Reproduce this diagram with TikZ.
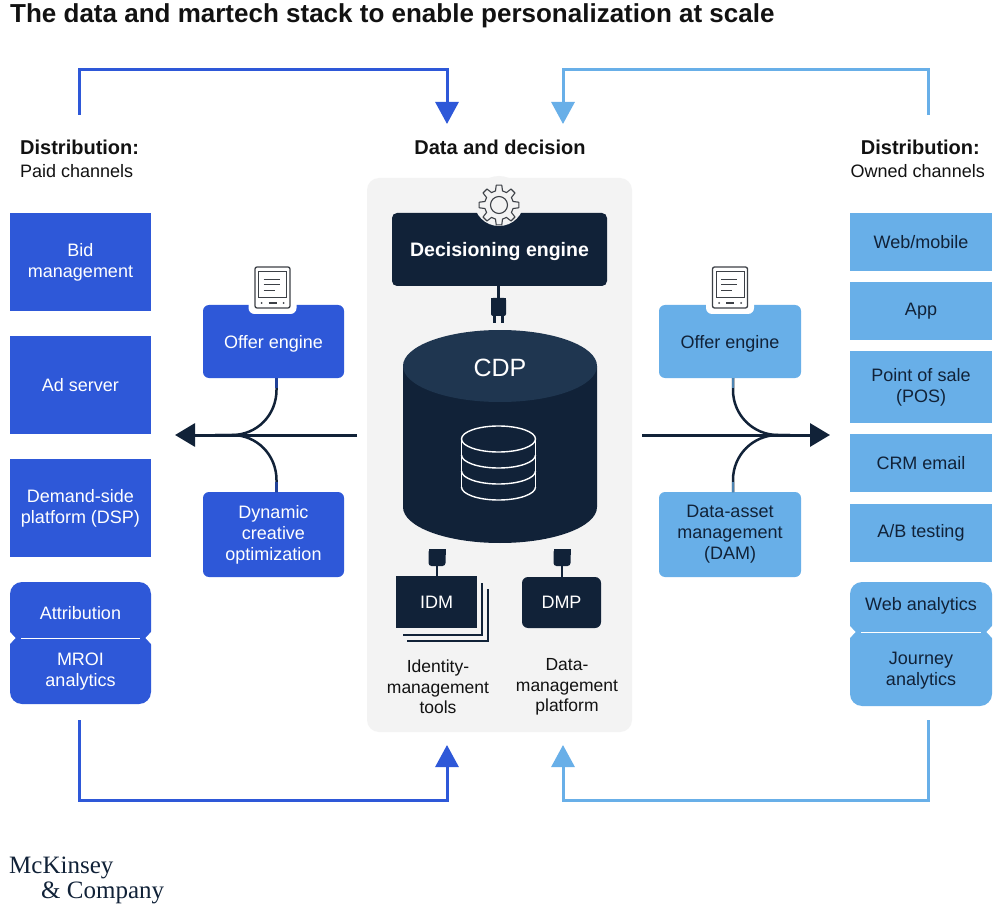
\documentclass[tikz,border=0pt]{standalone}
\usepackage{fontspec}
\setmainfont{Liberation Sans}
\newfontfamily\logofont{Liberation Serif}
\usetikzlibrary{arrows.meta}
\definecolor{mblue}{RGB}{46,88,216}
\definecolor{lblue}{RGB}{104,175,232}
\definecolor{navy}{RGB}{17,34,56}
\definecolor{cdptop}{RGB}{31,54,80}
\definecolor{panel}{RGB}{243,243,243}
\definecolor{ink}{RGB}{18,18,18}
\definecolor{icon}{RGB}{60,64,70}
\begin{document}
\begin{tikzpicture}[x=1pt,y=-1pt,
  boxtxt/.style={font=\fontsize{18}{21}\selectfont, align=center, inner sep=0pt, outer sep=0pt},
  paid/.style={boxtxt, fill=mblue, text=white, minimum width=141pt},
  owned/.style={boxtxt, fill=lblue, text=navy, minimum width=142pt},
  plain/.style={boxtxt, text=#1},
  head/.style={inner sep=0pt, text=ink, font=\fontsize{20}{24}\selectfont\bfseries},
  sub/.style={inner sep=0pt, text=ink, font=\fontsize{18}{22}\selectfont},
  darkbox/.style={boxtxt, fill=navy, text=white},
  label/.style={font=\fontsize{17.5}{20.5}\selectfont, align=center, inner sep=0pt, text=ink},
  loopA/.style={draw=mblue, line width=3pt, -{Triangle[length=22pt,width=23pt]}},
  loopB/.style={draw=lblue, line width=3pt, -{Triangle[length=22pt,width=23pt]}},
  flow/.style={draw=navy, line width=3pt, -{Triangle[length=20pt,width=23pt]}},
  feed/.style={draw=navy, line width=2.5pt},
  tablet/.pic={
    \fill[white, rounded corners=6pt] (-24,-32) rectangle (24,27);
    \draw[icon, line width=1.3pt, rounded corners=2pt] (-17.5,-20) rectangle (17.5,21);
    \draw[icon, line width=1pt] (-14,-15) rectangle (14,11);
    \draw[icon, line width=1pt] (-9,-7)--(7,-7) (-9,-2)--(7,-2) (-9,4)--(2,4);
    \fill[icon] (-11,16) circle (1pt) (11,16) circle (1pt);
    \draw[icon, line width=1.2pt] (-4,16)--(4,16);
  },
  plugup/.pic={
    \draw[navy, line width=2.5pt] (0,-13)--(0,1);
    \fill[navy, rounded corners=2pt] (-7.5,0) rectangle (7.5,18);
    \fill[navy] (-7.5,0) rectangle (7.5,6);
    \draw[navy, line width=2.5pt] (-4,17)--(-4,25) (4,17)--(4,25);
  },
  plugdown/.pic={
    \fill[navy, rounded corners=3pt] (-8.5,0) rectangle (8.5,17);
    \fill[navy] (-8.5,0) rectangle (8.5,6);
    \draw[navy, line width=2.5pt] (0,16)--(0,28);
  }
]
\useasboundingbox (0,0) rectangle (1002,912);
\fill[white] (0,0) rectangle (1002,912);

% title
\node[anchor=base west, inner sep=0pt, text=ink, font=\fontsize{26}{30}\selectfont\bfseries] (title) at (10,23)
  {The data and martech stack to enable personalization at scale};

% headings
\node[head, anchor=base west] (distL) at (20,155) {Distribution:};
\node[sub, anchor=base west] (paidL) at (20,178) {Paid channels};
\node[head, anchor=base] (dd) at (500,155) {Data and decision};
\node[head, anchor=base east] (distR) at (980,155) {Distribution:};
\node[sub, anchor=base east] (ownR) at (985,178) {Owned channels};

% central panel
\node[fill=panel, rounded corners=12pt, minimum width=265pt, minimum height=554pt, inner sep=0pt] (panel) at (499.5,455) {};

% loop arrows
\coordinate (tlA) at (79,115);
\coordinate (tlB) at (447,124);
\coordinate (trA) at (928,115);
\coordinate (trB) at (563,124);
\coordinate (blA) at (79,720);
\coordinate (blB) at (447,745);
\coordinate (brA) at (928,720);
\coordinate (brB) at (563,745);
\draw[loopA] (tlA) -- ++(0,-45) -| (tlB);
\draw[loopB] (trA) -- ++(0,-45) -| (trB);
\draw[loopA] (blA) -- ++(0,80) -| (blB);
\draw[loopB] (brA) -- ++(0,80) -| (brB);

% decisioning engine
\node[darkbox, rounded corners=5pt, minimum width=215pt, minimum height=73pt, font=\fontsize{19.5}{23}\selectfont\bfseries] (dec) at (499.5,249.5) {\raisebox{-6.8pt}[0pt][0pt]{Decisioning engine}};
\fill[panel] (499,201) circle (25pt);
\begin{scope}[shift={(499,205)}]
  \draw[icon, line width=1.1pt, line join=round]
    ({0-14}:14.5pt) \foreach \a in {0,45,...,315} { -- ({\a-14}:14.5pt) -- ({\a-8}:20pt) -- ({\a+8}:20pt) -- ({\a+14}:14.5pt) } -- cycle;
  \draw[icon, line width=1.1pt] (0,0) circle (8.5pt);
\end{scope}
\pic at (498.5,298) {plugup};

% CDP cylinder
\fill[navy] (403,366) -- (403,507) arc[start angle=180, end angle=360, x radius=97pt, y radius=36pt] -- (597,366) -- cycle;
\fill[cdptop] (500,366) ellipse [x radius=97pt, y radius=36pt];
\node[inner sep=0pt, text=white, font=\fontsize{25}{28}\selectfont] (cdp) at (500,368) {CDP};
\begin{scope}[white, line width=1.4pt]
  \draw (498.5,439) ellipse [x radius=37pt, y radius=13pt];
  \draw (461.5,439) -- (461.5,487) (535.5,439) -- (535.5,487);
  \foreach \c in {455,471,487} {
    \draw (461.5,\c) arc[start angle=180, end angle=360, x radius=37pt, y radius=13pt];
  }
\end{scope}

% IDM and DMP
\draw[navy, line width=2.5pt] (403,635) -- (482,635) -- (482,583);
\draw[navy, line width=2.5pt] (407,641) -- (488,641) -- (488,589);
\node[darkbox, minimum width=81pt, minimum height=52pt] (idm) at (436.5,602) {IDM};
\node[darkbox, rounded corners=6pt, minimum width=79pt, minimum height=51pt] (dmp) at (561.5,602.5) {DMP};
\pic at (437,549) {plugdown};
\pic at (562,549) {plugdown};
\node[label] (idmlab) at (438,687) {Identity-\\management\\tools};
\node[label] (dmplab) at (567,687) {Data-\\management\\platform};

% left column (paid)
\node[paid, minimum height=98pt] (bid) at (80.5,262) {Bid\\management};
\node[paid, minimum height=98pt] (ad) at (80.5,385) {Ad server};
\node[paid, minimum height=98pt] (dsp) at (80.5,508) {Demand-side\\platform (DSP)};
\node[paid, rounded corners=12pt, minimum height=122pt] (attr) at (80.5,643) {};
\fill[white] (9,631) -- (15.5,638) -- (9,645) -- cycle;
\fill[white] (152,631) -- (145.5,638) -- (152,645) -- cycle;
\draw[white, line width=1pt] (21,638) -- (140,638);
\node[plain=white] (attrt) at (80.5,613) {Attribution};
\node[plain=white] (mroi) at (80.5,672) {MROI\\analytics};

% right column (owned)
\node[owned, minimum height=58pt] (web) at (921,242) {Web/mobile};
\node[owned, minimum height=58pt] (app) at (921,311) {App};
\node[owned, minimum height=72pt] (pos) at (921,387) {Point of sale\\(POS)};
\node[owned, minimum height=58pt] (crm) at (921,463) {CRM email};
\node[owned, minimum height=58pt] (ab) at (921,533) {A/B testing};
\node[owned, rounded corners=12pt, minimum height=124pt] (wa) at (921,644) {};
\fill[white] (849,625) -- (855.5,632) -- (849,639) -- cycle;
\fill[white] (993,625) -- (986.5,632) -- (993,639) -- cycle;
\draw[white, line width=1pt] (861,632) -- (981,632);
\node[plain=navy] (wat) at (921,606) {Web analytics};
\node[plain=navy] (ja) at (921,671) {Journey\\analytics};

% left middle: offer engine + DCO
\node[paid, rounded corners=6pt, minimum height=73pt] (offerL) at (273.5,341.5) {\raisebox{-6.5pt}[0pt][0pt]{Offer engine}};
\pic at (272.5,287) {tablet};
\node[paid, rounded corners=6pt, minimum height=85pt] (dcoL) at (273.5,534.5) {Dynamic\\creative\\optimization};
\coordinate (srcL) at (357,435);
\coordinate (tipL) at (175,435);
\coordinate (joinL) at (215,435);
\draw[feed] ([xshift=3pt]offerL.south) -- ++(0,12) .. controls ++(0,25) and (257,435) .. (232,435) -- (joinL);
\draw[feed] ([xshift=3pt]dcoL.north) -- ++(0,-12) .. controls ++(0,-25) and (257,435) .. (232,435) -- (joinL);
\draw[mblue!60!navy, line width=2.5pt] ([xshift=3pt]offerL.south) -- ++(0,10);
\draw[mblue!60!navy, line width=2.5pt] ([xshift=3pt]dcoL.north) -- ++(0,-10);
\draw[flow] (srcL) -- (tipL);

% right middle: offer engine + DAM
\node[owned, rounded corners=6pt, minimum height=73pt] (offerR) at (730,341.5) {\raisebox{-6.5pt}[0pt][0pt]{Offer engine}};
\pic at (730,287) {tablet};
\node[owned, rounded corners=6pt, minimum height=85pt] (dam) at (730,534.5) {Data-asset\\management\\(DAM)};
\coordinate (srcR) at (642,435);
\coordinate (tipR) at (830,435);
\coordinate (joinR) at (790,435);
\draw[feed] ([xshift=3pt]offerR.south) -- ++(0,12) .. controls ++(0,25) and (753,435) .. (778,435) -- (joinR);
\draw[feed] ([xshift=3pt]dam.north) -- ++(0,-12) .. controls ++(0,-25) and (753,435) .. (778,435) -- (joinR);
\draw[lblue!70!navy, line width=2.5pt] ([xshift=3pt]offerR.south) -- ++(0,10);
\draw[lblue!70!navy, line width=2.5pt] ([xshift=3pt]dam.north) -- ++(0,-10);
\draw[flow] (srcR) -- (tipR);

% logo
\node[anchor=base west, inner sep=0pt, text=navy, font=\logofont\fontsize{25}{28}\selectfont] (mck) at (9,873) {McKinsey};
\node[anchor=base west, inner sep=0pt, text=navy, font=\logofont\fontsize{25}{28}\selectfont] (comp) at (41,898) {\& Company};
\end{tikzpicture}
\end{document}
